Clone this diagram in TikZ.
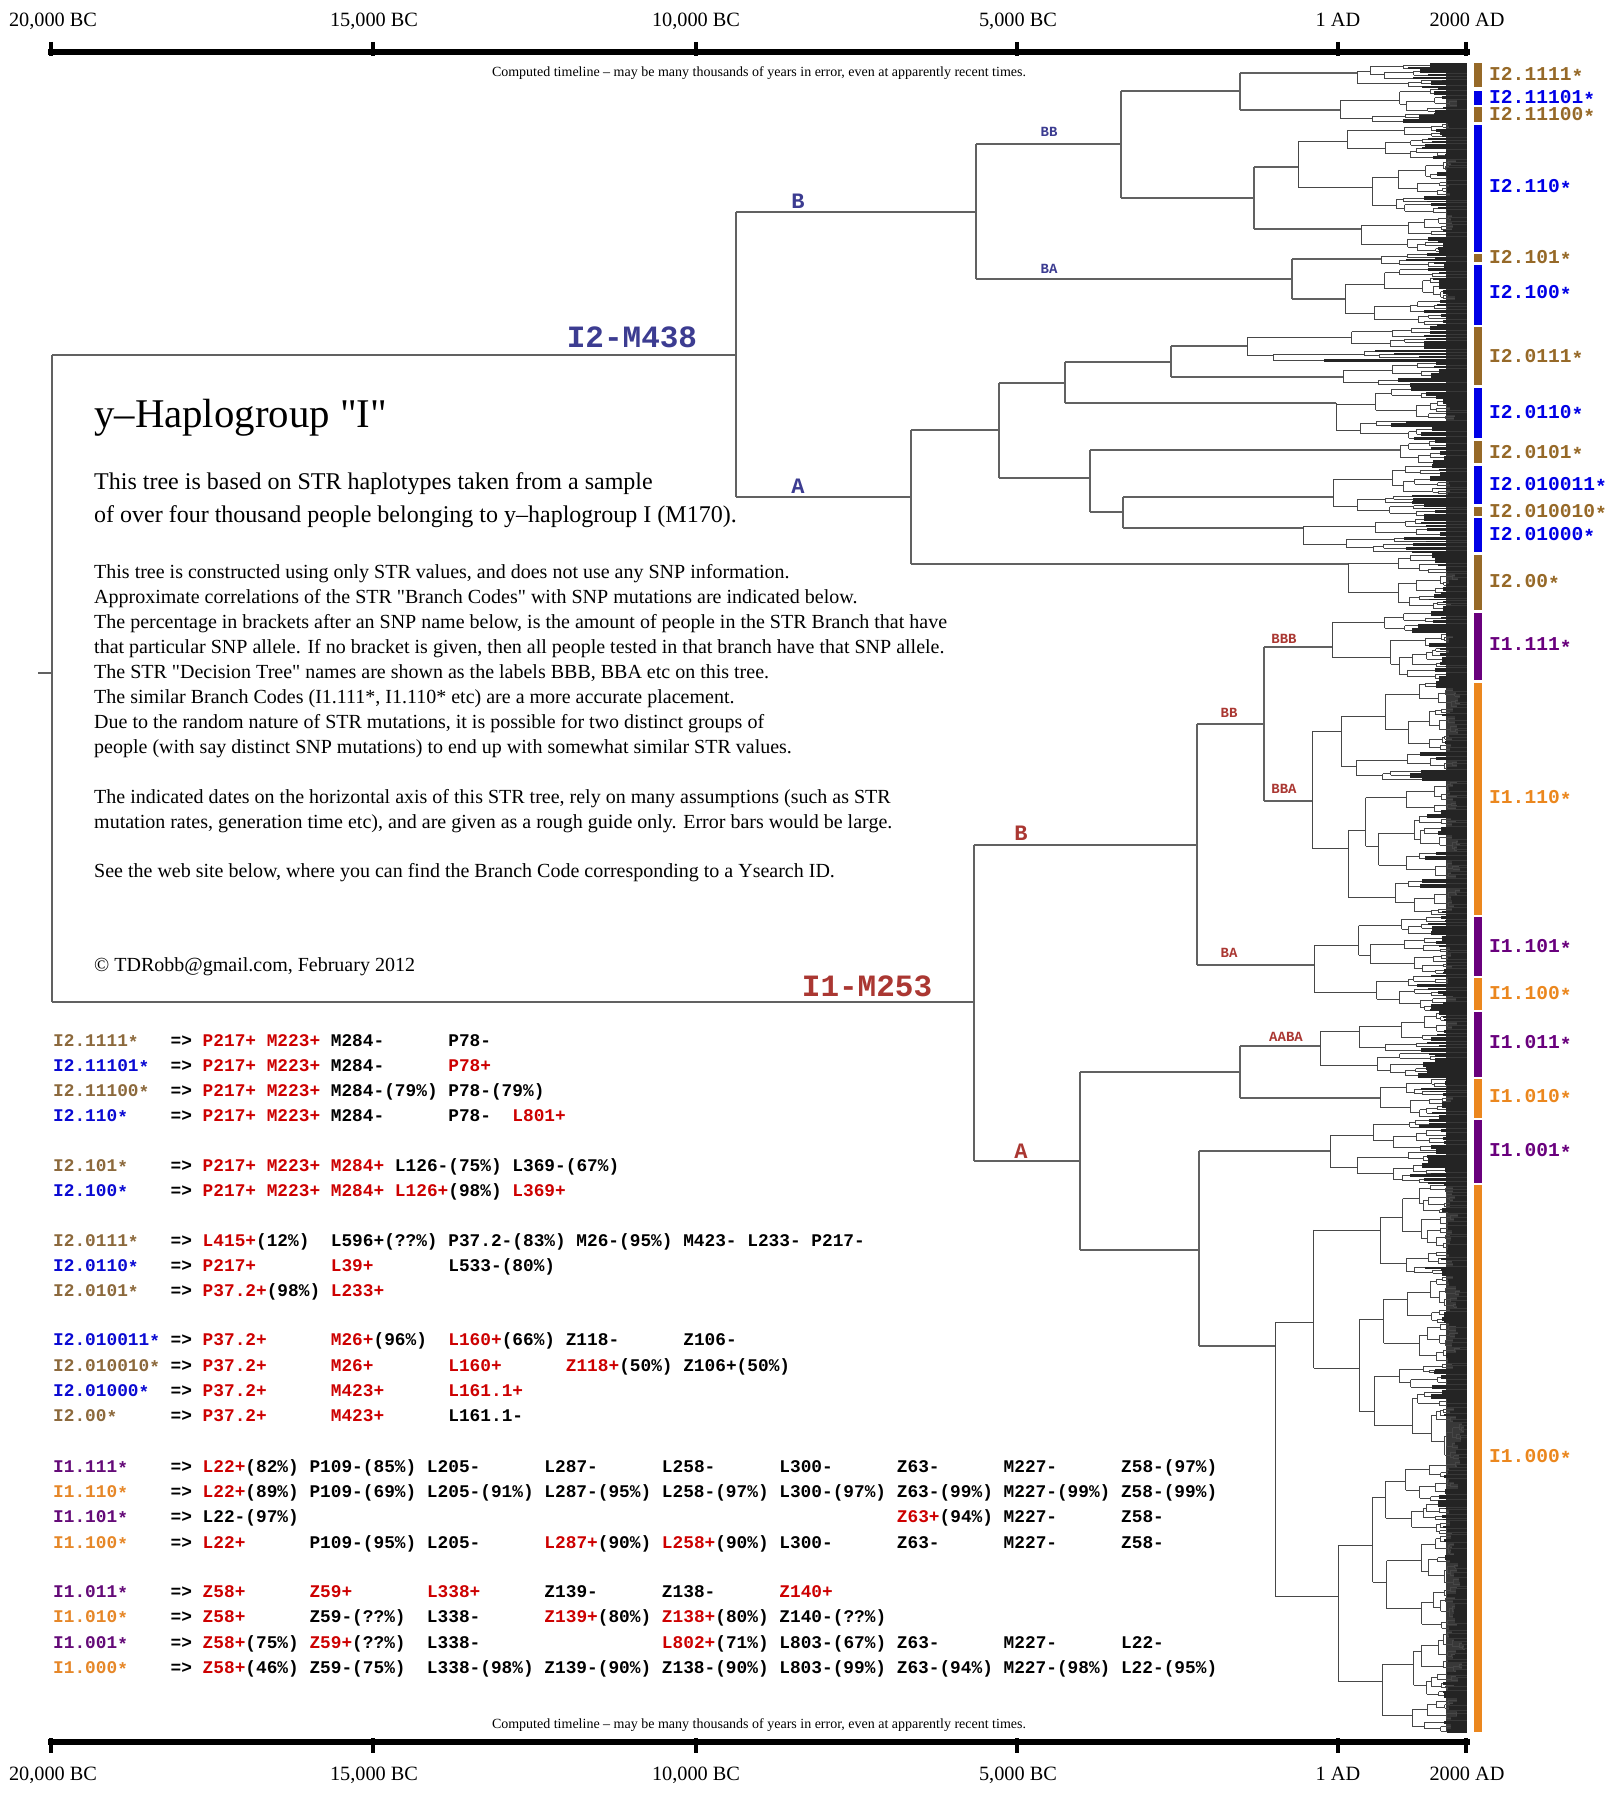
\documentclass[tikz,border=0pt]{standalone}
\usepackage{fontspec}
\setmainfont{Liberation Serif}[Ligatures=TeXOff]
\newfontfamily\mono{Liberation Mono}
\definecolor{barbrown}{RGB}{150,105,40}
\definecolor{barblue}{RGB}{0,0,230}
\definecolor{barpurple}{RGB}{105,0,125}
\definecolor{barorange}{RGB}{235,135,30}
\definecolor{lbrown}{RGB}{140,105,60}
\definecolor{lblue}{RGB}{10,10,210}
\definecolor{lpurple}{RGB}{100,10,120}
\definecolor{lorange}{RGB}{230,135,40}
\definecolor{snpred}{RGB}{205,0,0}
\definecolor{ibluelab}{RGB}{60,60,145}
\definecolor{iredlab}{RGB}{170,55,50}
\newlength\cw \setlength\cw{10.68pt}
\newcommand\mk[2]{\makebox[#1\cw][l]{#2}}
\newcommand\st{\raisebox{-0.3ex}{*}}
\newcommand\NM[2]{\mk{11}{\textcolor{#1}{#2\st}}\mk{3}{=>}}
\newcommand\R[1]{\textcolor{snpred}{#1}}
\newcommand\tblfont{\mono\bfseries\fontsize{17.8}{20}\selectfont}
\newcommand\lblfont{\mono\bfseries\fontsize{19.6}{22}\selectfont}
\def\xend{1467}
\newcommand\clade[4]{%
 \begingroup
 \pgfmathsetmacro\hh{#3-(#2)}%
 \ifdim\hh pt<5.5pt
   \fill[leaf] (#1,#2+0.3) rectangle (\xend,#3-0.3);
 \else
   \pgfmathsetmacro\ss{#2+\hh*(0.25+0.5*rnd)}%
   \pgfmathsetmacro\ca{(#2+\ss)/2}%
   \pgfmathsetmacro\cb{(\ss+#3)/2}%
   \pgfmathsetmacro\xa{#1+(\xend-#1)*(0.08+0.4*rnd)}%
   \pgfmathsetmacro\xb{#1+(\xend-#1)*(0.08+0.4*rnd)}%
   \pgfmathsetmacro\vt{min(\ca,#4)}%
   \pgfmathsetmacro\vb{max(\cb,#4)}%
   \draw[twig] (#1,\vt) -- (#1,\vb) (#1,\ca) -- (\xa,\ca) (#1,\cb) -- (\xb,\cb);
   \edef\tmp{\noexpand\clade{\xa}{#2}{\ss}{\ca}\noexpand\clade{\xb}{\ss}{#3}{\cb}}\tmp
 \fi
 \endgroup}
\tikzset{
 bone/.style={draw=black!62, line width=1.2pt},
 twig/.style={draw=black!72, line width=0.7pt},
 leaf/.style={fill=black!86},
 axl/.style={anchor=base, inner sep=0, font=\fontsize{20.3}{24}\selectfont},
 cmp/.style={anchor=base, inner sep=0, font=\fontsize{14}{16}\selectfont},
 body/.style={anchor=base west, inner sep=0, font=\fontsize{20}{25}\selectfont},
 tbl/.style={anchor=base west, inner sep=0, font=\tblfont},
 rlab/.style={anchor=west, inner sep=0, font=\lblfont},
 biglab/.style={anchor=center, inner sep=0, font=\mono\bfseries\fontsize{31}{34}\selectfont},
 midlab/.style={anchor=center, inner sep=0, font=\mono\bfseries\fontsize{22}{24}\selectfont},
 smlab/.style={anchor=center, inner sep=0, font=\mono\bfseries\fontsize{14}{16}\selectfont},
}
\begin{document}
\begin{tikzpicture}[x=1pt,y=-1pt]
\useasboundingbox (0,0) rectangle (1614,1801);
\fill[white] (0,0) rectangle (1614,1801);
\pgfmathsetseed{4711}
% ---------- axes
\foreach \yb/\yt/\yc in {52.5/42/56, 1741.5/1738/1753}{
  \draw[line width=6pt] (48,\yb) -- (1470,\yb);
  \foreach \xx in {51,373,696,1017,1338,1466}
    \draw[line width=4pt] (\xx,\yt) -- (\xx,\yc);
}
\node[axl] (ta1) at (53,27) {20,000 BC};
\node[axl] (ta2) at (374,27) {15,000 BC};
\node[axl] (ta3) at (696,27) {10,000 BC};
\node[axl] (ta4) at (1018,27) {5,000 BC};
\node[axl] (ta5) at (1338,27) {1 AD};
\node[axl] (ta6) at (1467,27) {2000 AD};
\node[axl] (ba1) at (53,1780) {20,000 BC};
\node[axl] (ba2) at (374,1780) {15,000 BC};
\node[axl] (ba3) at (696,1780) {10,000 BC};
\node[axl] (ba4) at (1018,1780) {5,000 BC};
\node[axl] (ba5) at (1338,1780) {1 AD};
\node[axl] (ba6) at (1467,1780) {2000 AD};
\node[cmp] (ct) at (759,77) {Computed timeline – may be many thousands of years in error, even at apparently recent times.};
\node[cmp] (cb) at (759,1728) {Computed timeline – may be many thousands of years in error, even at apparently recent times.};
% ---------- colour bars
\foreach \c/\ya/\yb in {barbrown/63/87, barblue/91/105, barbrown/107/122, barblue/125/252,
  barbrown/254/262, barblue/265/325, barbrown/327/385, barblue/388/438, barbrown/441/463,
  barblue/466/504, barbrown/507/516, barblue/518/552, barbrown/555/610, barpurple/613/680,
  barorange/683/915, barpurple/917/976, barorange/978/1010, barpurple/1012/1077,
  barorange/1079/1118, barpurple/1120/1183, barorange/1185/1732}
  \fill[\c] (1474,\ya) rectangle (1482,\yb);
\node[rlab, text=barbrown] (g1) at (1489,75) {I2.1111\st};
\node[rlab, text=barblue] (g2) at (1489,98) {I2.11101\st};
\node[rlab, text=barbrown] (g3) at (1489,115) {I2.11100\st};
\node[rlab, text=barblue] (g4) at (1489,187) {I2.110\st};
\node[rlab, text=barbrown] (g5) at (1489,258) {I2.101\st};
\node[rlab, text=barblue] (g6) at (1489,293) {I2.100\st};
\node[rlab, text=barbrown] (g7) at (1489,357) {I2.0111\st};
\node[rlab, text=barblue] (g8) at (1489,413) {I2.0110\st};
\node[rlab, text=barbrown] (g9) at (1489,453) {I2.0101\st};
\node[rlab, text=barblue] (g10) at (1489,485) {I2.010011\st};
\node[rlab, text=barbrown] (g11) at (1489,512) {I2.010010\st};
\node[rlab, text=barblue] (g12) at (1489,535) {I2.01000\st};
\node[rlab, text=barbrown] (g13) at (1489,582) {I2.00\st};
\node[rlab, text=barpurple] (g14) at (1489,646) {I1.111\st};
\node[rlab, text=barorange] (g15) at (1489,798) {I1.110\st};
\node[rlab, text=barpurple] (g16) at (1489,947) {I1.101\st};
\node[rlab, text=barorange] (g17) at (1489,994) {I1.100\st};
\node[rlab, text=barpurple] (g18) at (1489,1043) {I1.011\st};
\node[rlab, text=barorange] (g19) at (1489,1097) {I1.010\st};
\node[rlab, text=barpurple] (g20) at (1489,1151) {I1.001\st};
\node[rlab, text=barorange] (g21) at (1489,1457) {I1.000\st};
% ---------- dark background of the dense leaves
\fill[black!78] (1446,63) rectangle (1467,1732);
% ---------- tree backbone
\draw[bone] (38,673) -- (52,673);
\draw[bone] (52,355) -- (52,1002);
\draw[bone] (52,355) -- (736,355);
\draw[bone] (736,212) -- (736,497);
\draw[bone] (736,212) -- (976,212);
\draw[bone] (976,144) -- (976,279);
\draw[bone] (976,144) -- (1121,144);
\draw[bone] (1121,91) -- (1121,198);
\draw[bone] (1121,91) -- (1240,91);
\draw[bone] (1240,73) -- (1240,110);
\draw[bone] (1240,73) -- (1357,73); \clade{1357}{63}{88}{73}
\draw[bone] (1240,110) -- (1340,110); \clade{1340}{88}{123}{110}
\draw[bone] (1121,198) -- (1254,198);
\draw[bone] (1254,167) -- (1254,229);
\draw[bone] (1254,167) -- (1298,167); \clade{1298}{123}{215}{167}
\draw[bone] (1254,229) -- (1361,229); \clade{1361}{215}{253}{229}
\draw[bone] (976,279) -- (1292,279);
\draw[bone] (1292,259) -- (1292,299);
\draw[bone] (1292,259) -- (1381,259); \clade{1381}{253}{268}{259}
\draw[bone] (1292,299) -- (1345,299); \clade{1345}{268}{326}{299}
\draw[bone] (736,497) -- (911,497);
\draw[bone] (911,430) -- (911,564);
\draw[bone] (911,430) -- (999,430);
\draw[bone] (999,383) -- (999,478);
\draw[bone] (999,383) -- (1065,383);
\draw[bone] (1065,362) -- (1065,403);
\draw[bone] (1065,362) -- (1171,362);
\draw[bone] (1171,346) -- (1171,377);
\draw[bone] (1171,346) -- (1247,346); \clade{1247}{326}{362}{346}
\draw[bone] (1171,377) -- (1343,377); \clade{1343}{362}{387}{377}
\draw[bone] (1065,403) -- (1336,403); \clade{1336}{387}{440}{403}
\draw[bone] (999,478) -- (1090,478);
\draw[bone] (1090,450) -- (1090,512);
\draw[bone] (1090,450) -- (1400,450); \clade{1400}{440}{464}{450}
\draw[bone] (1090,512) -- (1123,512);
\draw[bone] (1123,497) -- (1123,528);
\draw[bone] (1123,497) -- (1333,497); \clade{1333}{464}{517}{497}
\draw[bone] (1123,528) -- (1303,528); \clade{1303}{517}{553}{528}
\draw[bone] (911,564) -- (1348,564); \clade{1348}{553}{611}{564}
% I1
\draw[bone] (52,1002) -- (974,1002);
\draw[bone] (974,845) -- (974,1161);
\draw[bone] (974,845) -- (1197,845);
\draw[bone] (1197,724) -- (1197,965);
\draw[bone] (1197,724) -- (1264,724);
\draw[bone] (1264,647) -- (1264,801);
\draw[bone] (1264,647) -- (1332,647); \clade{1332}{611}{681}{647}
\draw[bone] (1264,801) -- (1312,801); \clade{1312}{681}{916}{801}
\draw[bone] (1197,965) -- (1314,965); \clade{1314}{916}{1011}{965}
\draw[bone] (974,1161) -- (1080,1161);
\draw[bone] (1080,1072) -- (1080,1250);
\draw[bone] (1080,1072) -- (1240,1072);
\draw[bone] (1240,1046) -- (1240,1098);
\draw[bone] (1240,1046) -- (1320,1046); \clade{1320}{1011}{1078}{1046}
\draw[bone] (1240,1098) -- (1380,1098); \clade{1380}{1078}{1119}{1098}
\draw[bone] (1080,1250) -- (1199,1250);
\draw[bone] (1199,1151) -- (1199,1346);
\draw[bone] (1199,1151) -- (1330,1151); \clade{1330}{1119}{1184}{1151}
\draw[bone] (1199,1346) -- (1275,1346); \clade{1275}{1184}{1733}{1346}
% ---------- tree labels
\node[biglab, text=ibluelab] (i2) at (632,337) {I2-M438};
\node[biglab, text=iredlab] (i1) at (867,986) {I1-M253};
\node[midlab, text=ibluelab] (i2b) at (798,201) {B};
\node[midlab, text=ibluelab] (i2a) at (798,486) {A};
\node[smlab, text=ibluelab] (i2bb) at (1049,132) {BB};
\node[smlab, text=ibluelab] (i2ba) at (1049,269) {BA};
\node[midlab, text=iredlab] (i1b) at (1021,833) {B};
\node[midlab, text=iredlab] (i1a) at (1021,1151) {A};
\node[smlab, text=iredlab] (i1bb) at (1229,713) {BB};
\node[smlab, text=iredlab] (i1ba) at (1229,953) {BA};
\node[smlab, text=iredlab] (i1bbb) at (1284,639) {BBB};
\node[smlab, text=iredlab] (i1bba) at (1284,789) {BBA};
\node[smlab, text=iredlab] (i1aaba) at (1286,1037) {AABA};
% ---------- text block
\node[anchor=base west, inner sep=0, font=\fontsize{40.8}{44}\selectfont] (title) at (94,427) {y–Haplogroup "I"};
\node[anchor=base west, inner sep=0, font=\fontsize{24}{28}\selectfont] (in1) at (94,489) {This tree is based on STR haplotypes taken from a sample};
\node[anchor=base west, inner sep=0, font=\fontsize{24}{28}\selectfont] (in2) at (94,522) {of over four thousand people belonging to y–haplogroup I (M170).};
\node[body] (p1) at (94,578) {This tree is constructed using only STR values, and does not use any SNP information.};
\node[body] (p2) at (94,603) {Approximate correlations of the STR "Branch Codes" with SNP mutations are indicated below.};
\node[body] (p3) at (94,628) {The percentage in brackets after an SNP name below, is the amount of people in the STR Branch that have};
\node[body] (p4) at (94,653) {that particular SNP allele. If no bracket is given, then all people tested in that branch have that SNP allele.};
\node[body] (p5) at (94,678) {The STR "Decision Tree" names are shown as the labels BBB, BBA etc on this tree.};
\node[body] (p6) at (94,703) {The similar Branch Codes (I1.111*, I1.110* etc) are a more accurate placement.};
\node[body] (p7) at (94,728) {Due to the random nature of STR mutations, it is possible for two distinct groups of};
\node[body] (p8) at (94,753) {people (with say distinct SNP mutations) to end up with somewhat similar STR values.};
\node[body] (p9) at (94,803) {The indicated dates on the horizontal axis of this STR tree, rely on many assumptions (such as STR};
\node[body] (p10) at (94,828) {mutation rates, generation time etc), and are given as a rough guide only. Error bars would be large.};
\node[body] (p11) at (94,877) {See the web site below, where you can find the Branch Code corresponding to a Ysearch ID.};
\node[body] (p12) at (94,971) {© TDRobb@gmail.com, February 2012};
% ---------- SNP table
\node[tbl] (r1) at (53,1046) {\NM{lbrown}{I2.1111}\mk{6}{\R{P217+}}\mk{6}{\R{M223+}}\mk{11}{M284-}P78-};
\node[tbl] (r2) at (53,1071) {\NM{lblue}{I2.11101}\mk{6}{\R{P217+}}\mk{6}{\R{M223+}}\mk{11}{M284-}\R{P78+}};
\node[tbl] (r3) at (53,1096) {\NM{lbrown}{I2.11100}\mk{6}{\R{P217+}}\mk{6}{\R{M223+}}\mk{11}{M284-(79\%)}P78-(79\%)};
\node[tbl] (r4) at (53,1121) {\NM{lblue}{I2.110}\mk{6}{\R{P217+}}\mk{6}{\R{M223+}}\mk{11}{M284-}\mk{6}{P78-}\R{L801+}};
\node[tbl] (r5) at (53,1171) {\NM{lbrown}{I2.101}\mk{6}{\R{P217+}}\mk{6}{\R{M223+}}\mk{6}{\R{M284+}}\mk{11}{L126-(75\%)}L369-(67\%)};
\node[tbl] (r6) at (53,1196) {\NM{lblue}{I2.100}\mk{6}{\R{P217+}}\mk{6}{\R{M223+}}\mk{6}{\R{M284+}}\mk{11}{\R{L126+}(98\%)}\R{L369+}};
\node[tbl] (r7) at (53,1246) {\NM{lbrown}{I2.0111}\mk{12}{\R{L415+}(12\%)}\mk{11}{L596+(??\%)}\mk{12}{P37.2-(83\%)}\mk{10}{M26-(95\%)}\mk{6}{M423-}\mk{6}{L233-}P217-};
\node[tbl] (r8) at (53,1271) {\NM{lblue}{I2.0110}\mk{12}{\R{P217+}}\mk{11}{\R{L39+}}L533-(80\%)};
\node[tbl] (r9) at (53,1296) {\NM{lbrown}{I2.0101}\mk{12}{\R{P37.2+}(98\%)}\R{L233+}};
\node[tbl] (r10) at (53,1345) {\NM{lblue}{I2.010011}\mk{12}{\R{P37.2+}}\mk{11}{\R{M26+}(96\%)}\mk{11}{\R{L160+}(66\%)}\mk{11}{Z118-}Z106-};
\node[tbl] (r11) at (53,1371) {\NM{lbrown}{I2.010010}\mk{12}{\R{P37.2+}}\mk{11}{\R{M26+}}\mk{11}{\R{L160+}}\mk{11}{\R{Z118+}(50\%)}Z106+(50\%)};
\node[tbl] (r12) at (53,1396) {\NM{lblue}{I2.01000}\mk{12}{\R{P37.2+}}\mk{11}{\R{M423+}}\R{L161.1+}};
\node[tbl] (r13) at (53,1421) {\NM{lbrown}{I2.00}\mk{12}{\R{P37.2+}}\mk{11}{\R{M423+}}L161.1-};
\node[tbl] (r14) at (53,1472) {\NM{lpurple}{I1.111}\mk{10}{\R{L22+}(82\%)}\mk{11}{P109-(85\%)}\mk{11}{L205-}\mk{11}{L287-}\mk{11}{L258-}\mk{11}{L300-}\mk{10}{Z63-}\mk{11}{M227-}Z58-(97\%)};
\node[tbl] (r15) at (53,1497) {\NM{lorange}{I1.110}\mk{10}{\R{L22+}(89\%)}\mk{11}{P109-(69\%)}\mk{11}{L205-(91\%)}\mk{11}{L287-(95\%)}\mk{11}{L258-(97\%)}\mk{11}{L300-(97\%)}\mk{10}{Z63-(99\%)}\mk{11}{M227-(99\%)}Z58-(99\%)};
\node[tbl] (r16) at (53,1522) {\NM{lpurple}{I1.101}\mk{65}{L22-(97\%)}\mk{10}{\R{Z63+}(94\%)}\mk{11}{M227-}Z58-};
\node[tbl] (r17) at (53,1548) {\NM{lorange}{I1.100}\mk{10}{\R{L22+}}\mk{11}{P109-(95\%)}\mk{11}{L205-}\mk{11}{\R{L287+}(90\%)}\mk{11}{\R{L258+}(90\%)}\mk{11}{L300-}\mk{10}{Z63-}\mk{11}{M227-}Z58-};
\node[tbl] (r18) at (53,1597) {\NM{lpurple}{I1.011}\mk{10}{\R{Z58+}}\mk{11}{\R{Z59+}}\mk{11}{\R{L338+}}\mk{11}{Z139-}\mk{11}{Z138-}\R{Z140+}};
\node[tbl] (r19) at (53,1622) {\NM{lorange}{I1.010}\mk{10}{\R{Z58+}}\mk{11}{Z59-(??\%)}\mk{11}{L338-}\mk{11}{\R{Z139+}(80\%)}\mk{11}{\R{Z138+}(80\%)}Z140-(??\%)};
\node[tbl] (r20) at (53,1648) {\NM{lpurple}{I1.001}\mk{10}{\R{Z58+}(75\%)}\mk{11}{\R{Z59+}(??\%)}\mk{22}{L338-}\mk{11}{\R{L802+}(71\%)}\mk{11}{L803-(67\%)}\mk{10}{Z63-}\mk{11}{M227-}L22-};
\node[tbl] (r21) at (53,1673) {\NM{lorange}{I1.000}\mk{10}{\R{Z58+}(46\%)}\mk{11}{Z59-(75\%)}\mk{11}{L338-(98\%)}\mk{11}{Z139-(90\%)}\mk{11}{Z138-(90\%)}\mk{11}{L803-(99\%)}\mk{10}{Z63-(94\%)}\mk{11}{M227-(98\%)}L22-(95\%)};
\end{tikzpicture}
\end{document}
